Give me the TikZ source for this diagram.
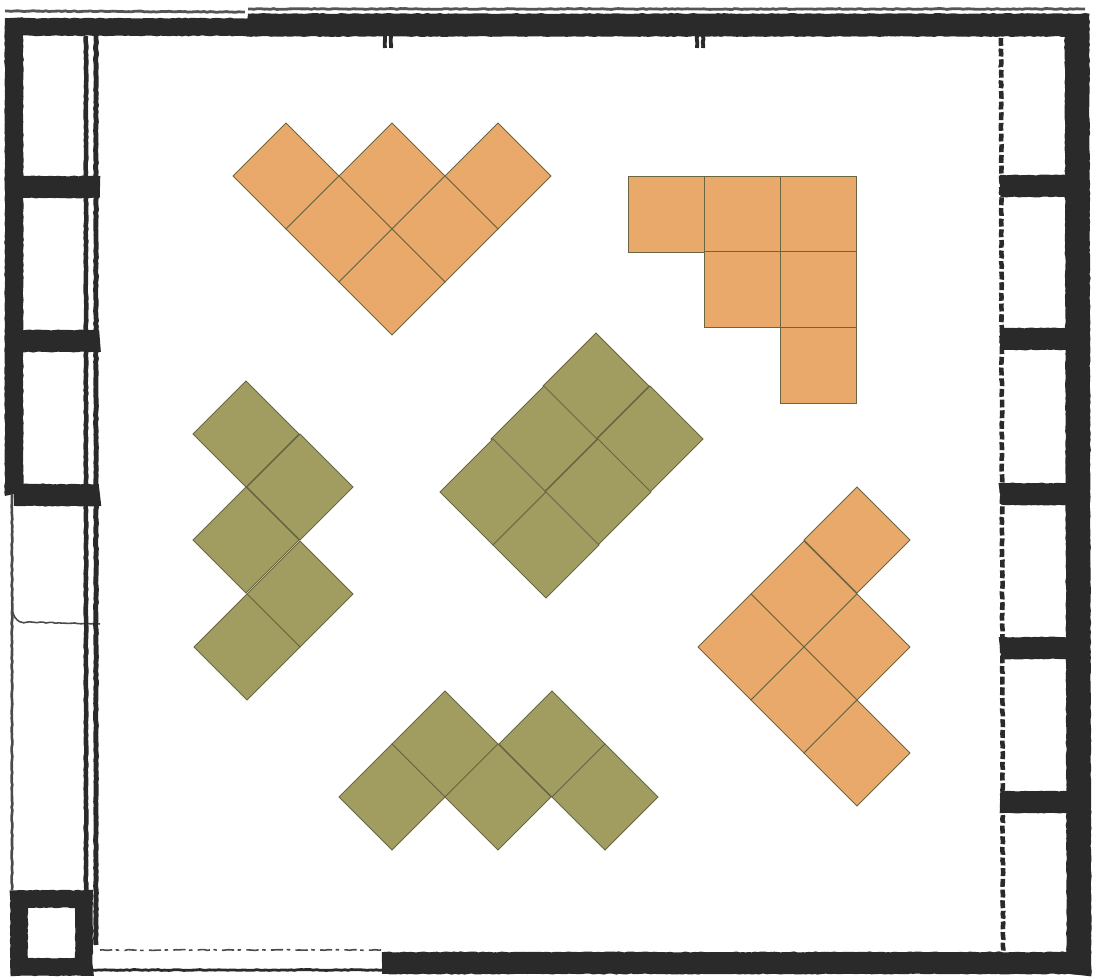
\documentclass[tikz,border=0pt]{standalone}
\usepackage{xcolor}
\usetikzlibrary{decorations.pathmorphing}
\definecolor{wallblack}{HTML}{2A2A2A}
\definecolor{tileorange}{HTML}{E8A96A}
\definecolor{tilegreen}{HTML}{A19D61}
\definecolor{tileedge}{HTML}{6A6642}

\begin{document}
\begin{tikzpicture}[
  x=0.02cm, y=-0.02cm,
  rough/.style={decorate, decoration={random steps, segment length=1.8pt, amplitude=0.25pt}},
  wall/.style={rough, draw=wallblack, line width=13pt},
  sidewall/.style={rough, draw=wallblack, line width=10.5pt},
  rung/.style={rough, draw=wallblack, line width=12.5pt},
  thinline/.style={rough, draw=wallblack, line width=1.6pt},
  hairline/.style={rough, draw=wallblack!85, line width=0.9pt},
  dashline/.style={rough, draw=wallblack, line width=2.6pt, dash pattern=on 4.5pt off 1.6pt},
  orangecell/.style={draw=tileedge, fill=tileorange, line width=0.5pt, line join=miter},
  greencell/.style={draw=tileedge, fill=tilegreen, line width=0.5pt, line join=miter}
]
\useasboundingbox (0,0) rectangle (1095,980);

% Top wall and scratches above it
\draw[rough, draw=wallblack, line width=10pt] (5,27) -- (250,27);
\draw[wall] (247,25) -- (1088,25);
\draw[thinline, draw=wallblack!80] (5,11) -- (245,12);
\draw[thinline, draw=wallblack!80] (248,9) -- (1085,9);
\foreach \tx in {385,391,697,703}
  \draw[thinline, line width=2.2pt] (\tx,36) -- (\tx,48);

% Left wall
\draw[sidewall] (14,18) -- (14,494);
\draw[hairline, line width=1.5pt] (12,494) -- (12,890);
\draw[hairline] (12,605) to[out=-90,in=180] (24,622) -- (100,624);

% Double line on the left
\draw[thinline, line width=2.6pt] (86,36) -- (86,945);
\draw[thinline, line width=2.8pt] (96,36) -- (96,945);

% Left rungs
\foreach \ry in {187,341,495}
  \draw[rung] (14,\ry) -- (100,\ry);

% Corner box
\draw[rough, draw=wallblack, line width=10pt] (19,899) rectangle (84,967);

% Right wall, dashed line and rungs
\draw[wall, line width=14pt] (1077,16) -- (1079,975);
\draw[dashline] (1001,38) -- (1003,952);
\foreach \ry in {186,339,494,648,802}
  \draw[rung] (1000,\ry) -- (1075,\ry);

% Bottom wall, open on the left
\draw[wall, line width=12.5pt] (382,963) -- (1090,963);
\draw[thinline] (92,970) -- (382,970);
\draw[hairline, dash pattern=on 7pt off 2pt on 2pt off 3pt] (100,950) -- (382,950);

% Orange tiles
\foreach \cx/\cy in {286/176,392/176,498/176,339/229,445/229,392/282,
                     857/540,804/594,857/647,751/647,804/700,857/753}
  \draw[orangecell] (\cx,\cy-53) -- (\cx+53,\cy) -- (\cx,\cy+53) -- (\cx-53,\cy) -- cycle;
\foreach \cx/\cy in {628/176,704/176,780/176,704/251,780/251,780/327}
  \draw[orangecell] (\cx,\cy) rectangle (\cx+76,\cy+76);

% Green tiles
\foreach \cx/\cy in {596/386,544/439,493/492,650/439,598/492,546/545,
                     246/434,300/487,246/540,300/594,247/647,
                     445/744,392/797,498/797,552/744,605/797}
  \draw[greencell] (\cx,\cy-53) -- (\cx+53,\cy) -- (\cx,\cy+53) -- (\cx-53,\cy) -- cycle;
\end{tikzpicture}
\end{document}
